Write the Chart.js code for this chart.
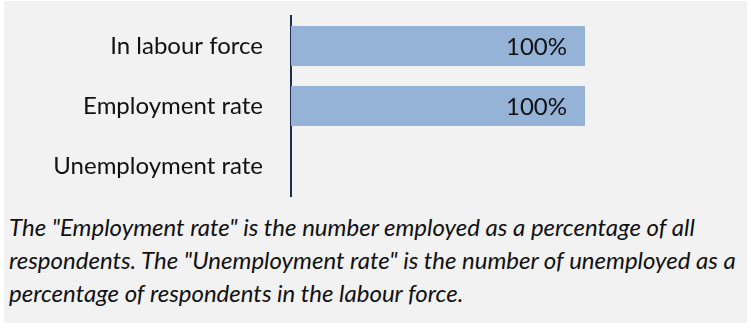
<!DOCTYPE html>
<html>
<head>
<meta charset="utf-8">
<script src="https://cdn.jsdelivr.net/npm/chart.js@4.4.1/dist/chart.umd.min.js"></script>
<style>
    html, body { margin: 0; padding: 0; background: #fff; }
    body { width: 751px; height: 333px; position: relative; overflow: hidden; }
    .panel { position: absolute; left: 4px; top: 1px; width: 743px; height: 322px; background: #f2f2f2; }
    .grafico { position: absolute; left: 0; top: 0; width: 751px; height: 210px; }
    .nota {
        position: absolute; left: 9px; top: 210px;
        font: italic 24px Lato, sans-serif; line-height: 33px;
        color: #111; white-space: nowrap;
    }
</style>
</head>
<body>
<div class="panel"></div>
<div class="grafico"><canvas id="grafico-empleo" width="751" height="210"></canvas></div>
<div class="nota" id="nota"></div>
<script>
const CATEGORIAS = ['In labour force', 'Employment rate', 'Unemployment rate'];
const VALORES = [100, 100, 0];
const EJE_MIN = 0;
const EJE_MAX = 150;
const NOTA = [
    'The "Employment rate" is the number employed as a percentage of all',
    'respondents. The "Unemployment rate" is the number of unemployed as a',
    'percentage of respondents in the labour force.'
];

const FUENTE = 'Lato, sans-serif';
const COLOR_TEXTO = '#111';

// etiqueta "100%" dentro del extremo de cada barra
const etiquetasValor = {
    id: 'etiquetasValor',
    afterDatasetsDraw(chart) {
        const { ctx } = chart;
        const meta = chart.getDatasetMeta(0);
        ctx.save();
        ctx.font = `24px ${FUENTE}`;
        ctx.fillStyle = COLOR_TEXTO;
        ctx.textAlign = 'right';
        ctx.textBaseline = 'middle';
        meta.data.forEach((bar, i) => {
            const v = VALORES[i];
            if (!v) return;
            ctx.fillText(`${v}%`, bar.x - 18, bar.y + 1);
        });
        ctx.restore();
    }
};

const renderGrafico = () => {
    const canvas = document.getElementById('grafico-empleo');
    new Chart(canvas, {
        type: 'bar',
        data: {
            labels: CATEGORIAS,
            datasets: [{
                data: VALORES,
                backgroundColor: '#95b3d7',
                borderWidth: 0,
                barPercentage: 0.667,
                categoryPercentage: 1
            }]
        },
        options: {
            indexAxis: 'y',
            responsive: false,
            animation: false,
            layout: { padding: { top: 16, bottom: 14, left: 0, right: 19 } },
            scales: {
                x: { display: false, min: EJE_MIN, max: EJE_MAX },
                y: {
                    z: 1,
                    afterFit: (scale) => {
                        scale.width = 291;
                        scale.paddingTop = 0;
                        scale.paddingBottom = 0;
                    },
                    grid: { display: false, drawTicks: false },
                    border: { display: true, color: '#1c2f4f', width: 2 },
                    ticks: {
                        padding: 28,
                        color: COLOR_TEXTO,
                        font: { family: FUENTE, size: 24 }
                    }
                }
            },
            plugins: {
                legend: { display: false },
                tooltip: { enabled: false }
            }
        },
        plugins: [etiquetasValor]
    });
};

document.getElementById('nota').innerHTML = NOTA.join('<br>');
renderGrafico();
</script>
</body>
</html>
